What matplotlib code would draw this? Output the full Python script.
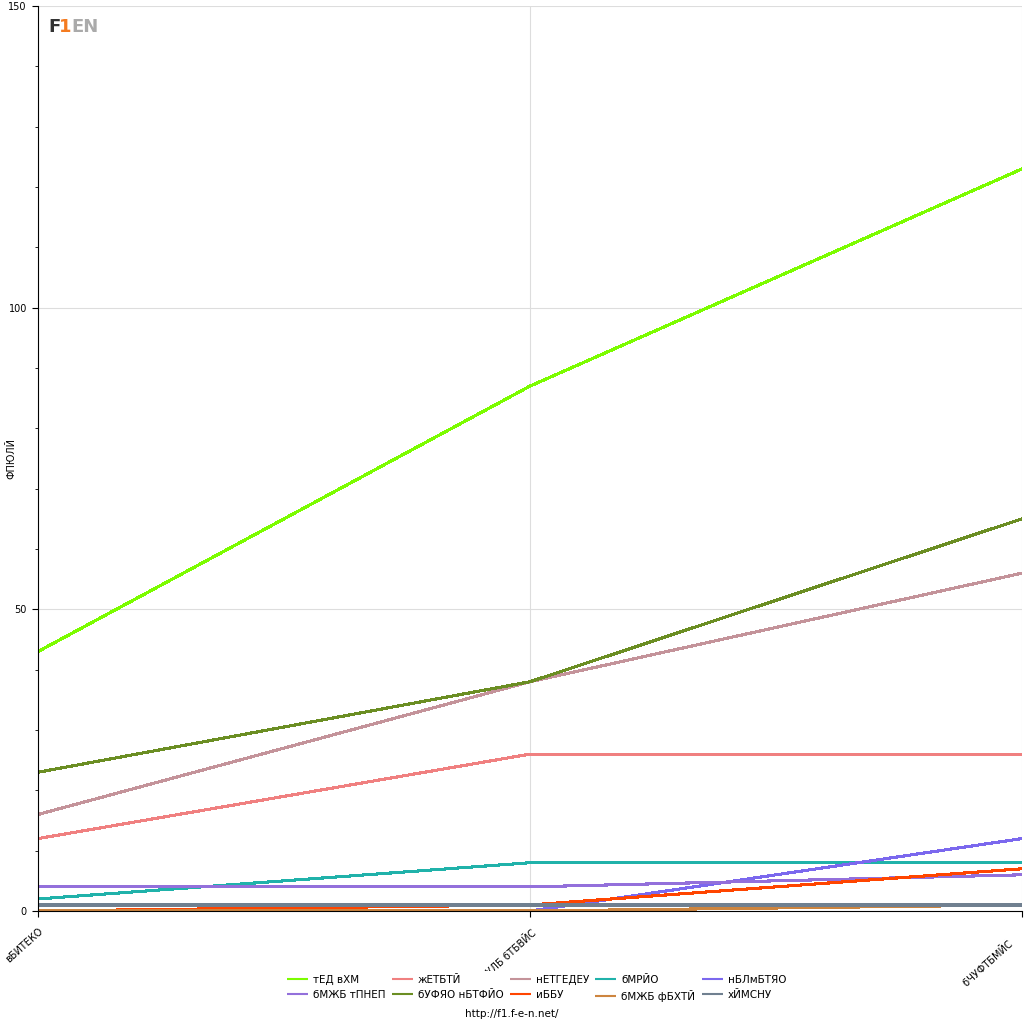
#!/usr/bin/env python3
"""
Points after each race - constructors chart
"""

import numpy as np
import matplotlib
matplotlib.use('Agg')
import matplotlib.pyplot as plt
from matplotlib.ticker import MultipleLocator

# Data
races = ['вБИТЕКО', 'уБХДЙФУЛБ бТБВЙС', 'бЧУФТБМЙС']
teams = ['тЕД вХМ', 'жЕТБТЙ', 'нЕТГЕДЕУ', 'бМРЙО', 'нБЛмБТЯО',
         'бМЖБ тПНЕП', 'бУФЯО нБТФЙО', 'иББУ', 'бМЖБ фБХТЙ', 'хЙМСНУ']
red_bull = [43, 87, 123]
ferrari = [12, 26, 26]
mercedes = [16, 38, 56]
alpine = [2, 8, 8]
mclaren = [np.nan, 0, 12]
alfa_romeo = [4, 4, 6]
aston_martin = [23, 38, 65]
haas = [0, 1, 7]
alpha_tauri = [0, 0, 1]
williams = [1, 1, 1]

series = [red_bull, ferrari, mercedes, alpine, mclaren,
          alfa_romeo, aston_martin, haas, alpha_tauri, williams]
colors = ['#7CFC00', '#F08080', '#C4939A', '#20B2AA', '#7B68EE',
          '#9370DB', '#6B8E23', '#FF4500', '#CD853F', '#708090']

plt.rcParams['font.family'] = ['DejaVu Sans']

fig = plt.figure(figsize=(10.24, 10.24), dpi=100)
ax = fig.add_axes([38 / 1024, 1 - 911 / 1024, 984 / 1024, 905 / 1024])

x = np.arange(len(races))
lines = []
for name, vals, c in zip(teams, series, colors):
    ln, = ax.plot(x, vals, color=c, lw=1.5, label=name, antialiased=False,
                  solid_capstyle='butt')
    lines.append(ln)

ax.set_xlim(0, 2)
ax.set_ylim(0, 150)
ax.set_xticks(x)
# trailing spaces pull the last label back inside the figure
tick_labels = races[:-1] + [races[-1] + '      ']
ax.set_xticklabels(tick_labels, rotation=42, ha='right',
                   rotation_mode='anchor', fontsize=7)
ax.yaxis.set_major_locator(MultipleLocator(50))
ax.yaxis.set_minor_locator(MultipleLocator(10))
ax.tick_params(axis='y', which='major', labelsize=7, length=4, pad=4)
ax.tick_params(axis='y', which='minor', length=2)
ax.tick_params(axis='x', length=4, pad=7)
ax.grid(True, color='#dddddd', lw=0.8)
for s in ['top', 'right']:
    ax.spines[s].set_visible(False)
ax.set_ylabel('ФПЮЛЙ', fontsize=7)
ax.yaxis.set_label_coords(-0.0215, 0.5)

# logo stand-in
ax.text(10 / 984, 0.987, 'F', transform=ax.transAxes, fontsize=13,
        fontweight='bold', color='#333333', va='top')
ax.text(21 / 984, 0.987, '1', transform=ax.transAxes, fontsize=13,
        fontweight='bold', color='#F47B20', va='top')
ax.text(33 / 984, 0.987, 'EN', transform=ax.transAxes, fontsize=13,
        fontweight='bold', color='#aaaaaa', va='top')

# legend: row-wise layout in 5 columns
order = []
for j in range(5):
    order += [j, j + 5]
leg = fig.legend([lines[i] for i in order], [teams[i] for i in order],
                 loc='center', bbox_to_anchor=(0.524, 0.0347), ncol=5,
                 fontsize=7.5, frameon=True, edgecolor='none', framealpha=1,
                 handlelength=2.0, handletextpad=0.5, columnspacing=0.6,
                 labelspacing=0.45, borderpad=0.4)
leg.set_zorder(10)

fig.text(0.5, 0.005, 'http://f1.f-e-n.net/', ha='center', va='bottom',
         fontsize=7.5)

plt.savefig('out.png', dpi=100)
plt.close()
